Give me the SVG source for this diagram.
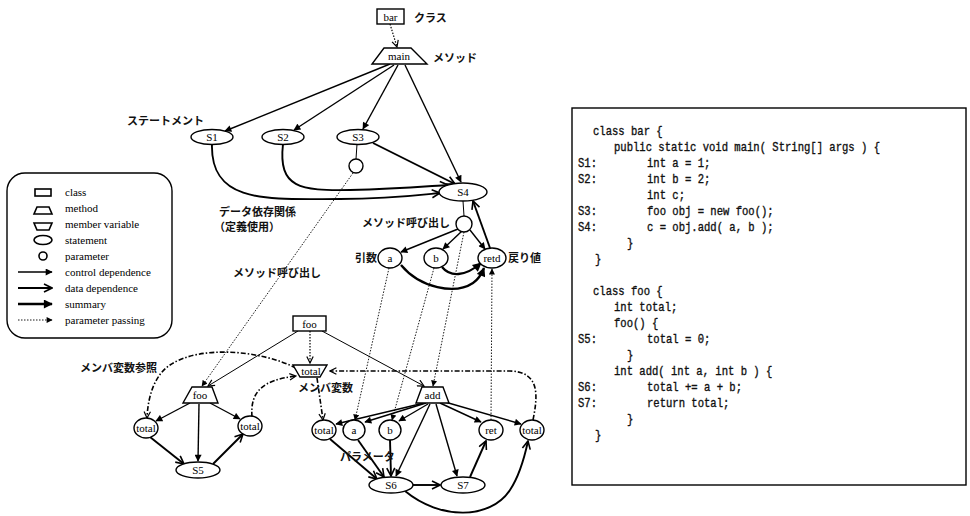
<svg xmlns="http://www.w3.org/2000/svg" width="970" height="516" viewBox="0 0 970 516">
<style>
.n{fill:#fff;stroke:#000;stroke-width:1.4}
.lbl{font-family:"Liberation Serif",serif;font-size:11px;text-anchor:middle;fill:#000}
.jp{font-family:"Liberation Sans","Noto Sans CJK JP",sans-serif;font-size:11px;font-weight:bold;fill:#111}
.leg{font-family:"Liberation Serif",serif;font-size:11px;fill:#000}
.code{font-family:"Liberation Mono",monospace;font-size:12px;fill:#111;stroke:#111;stroke-width:0.35}
.ctl{fill:none;stroke:#000;stroke-width:1.4;marker-end:url(#fill)}
.dat{fill:none;stroke:#000;stroke-width:1.9;marker-end:url(#open)}
.sum{fill:none;stroke:#000;stroke-width:2.3;marker-end:url(#fillb)}
.par{fill:none;stroke:#000;stroke-width:0.9;stroke-dasharray:1.5 1.5;marker-end:url(#fills)}
.cls{fill:none;stroke:#000;stroke-width:1;marker-end:url(#opens)}
.clsd{fill:none;stroke:#000;stroke-width:1.2;stroke-dasharray:1.5 1.5;marker-end:url(#opens)}
.mem{fill:none;stroke:#000;stroke-width:1.6;stroke-dasharray:5 2 1.5 2;marker-end:url(#opens)}
.pl{fill:none;stroke:#000;stroke-width:1}
</style>
<defs>
<marker id="fill" viewBox="0 0 10 10" refX="9" refY="5" markerWidth="9" markerHeight="7" markerUnits="userSpaceOnUse" orient="auto"><path d="M0,0 L10,5 L0,10 z"/></marker>
<marker id="fillb" viewBox="0 0 10 10" refX="9" refY="5" markerWidth="11" markerHeight="9" markerUnits="userSpaceOnUse" orient="auto"><path d="M0,0 L10,5 L0,10 z"/></marker>
<marker id="fills" viewBox="0 0 10 10" refX="9" refY="5" markerWidth="7" markerHeight="6" markerUnits="userSpaceOnUse" orient="auto"><path d="M0,0 L10,5 L0,10 z"/></marker>
<marker id="open" viewBox="0 0 10 10" refX="9" refY="5" markerWidth="10" markerHeight="10" markerUnits="userSpaceOnUse" orient="auto"><path d="M1,1 L9,5 L1,9" fill="none" stroke="#000" stroke-width="1.6"/></marker>
<marker id="opens" viewBox="0 0 10 10" refX="9" refY="5" markerWidth="8" markerHeight="8" markerUnits="userSpaceOnUse" orient="auto"><path d="M1,1 L9,5 L1,9" fill="none" stroke="#000" stroke-width="1.5"/></marker>
</defs>
<rect width="970" height="516" fill="#fff"/>

<g id="legend">
<rect x="7" y="173" width="165" height="165" rx="18" fill="none" stroke="#000" stroke-width="1.4"/>
<rect x="35" y="189" width="16" height="7" fill="none" stroke="#000" stroke-width="1.6"/>
<polygon points="37,207 49,207 52,214 34,214" fill="none" stroke="#000" stroke-width="1.6"/>
<polygon points="34,223 52,223 49,230 37,230" fill="none" stroke="#000" stroke-width="1.6"/>
<ellipse cx="43" cy="240" rx="9" ry="4.5" fill="none" stroke="#000" stroke-width="1.6"/>
<circle cx="43" cy="256" r="4" fill="none" stroke="#000" stroke-width="1.6"/>
<line x1="18" y1="272" x2="52" y2="272" class="ctl"/>
<line x1="18" y1="288" x2="52" y2="288" class="dat"/>
<line x1="18" y1="304" x2="52" y2="304" class="sum"/>
<line x1="18" y1="320" x2="52" y2="320" class="par"/>
<text class="leg" x="65" y="196">class</text>
<text class="leg" x="65" y="212">method</text>
<text class="leg" x="65" y="228">member variable</text>
<text class="leg" x="65" y="244">statement</text>
<text class="leg" x="65" y="260">parameter</text>
<text class="leg" x="65" y="276">control dependence</text>
<text class="leg" x="65" y="292">data dependence</text>
<text class="leg" x="65" y="308">summary</text>
<text class="leg" x="65" y="324">parameter passing</text>
</g>

<g id="connectors">
<path class="clsd" d="M390,24 L397,47"/>
<path class="ctl" d="M390,64 L225,131"/>
<path class="ctl" d="M394,65 L294,130"/>
<path class="ctl" d="M398,65 L363,129"/>
<path class="ctl" d="M405,65 L461,182"/>
<path class="dat" d="M212,144 C 210,205 270,199 340,199 C 390,199 420,195 440,193"/>
<path class="dat" d="M283,144 C 278,188 300,191 350,190 C 400,189 430,186 448,185"/>
<path class="dat" d="M373,143 L455,184"/>
<path class="pl" d="M357,144 L356,159"/>
<path class="pl" d="M463,201 L464,216"/>
<path class="ctl" d="M458,229 L401,252"/>
<path class="ctl" d="M462,231 L443,249"/>
<path class="ctl" d="M470,230 L485,249"/>
<path class="dat" d="M490,248 L473,201"/>
<path class="sum" d="M401,265 C 420,288 455,295 473,283 C 479,279 482,273 484,268"/>
<path class="sum" d="M442,267 C 450,277 465,277 481,263"/>
<path class="par" d="M353,173 L202,386"/>
<path class="par" d="M464,232 L433,386"/>
<path class="par" d="M389,268 L355,420"/>
<path class="par" d="M434,268 L392,420"/>
<path class="par" d="M491,420 L492,269"/>
<path class="cls" d="M298,331 L208,386"/>
<path class="cls" d="M322,331 L424,386"/>
<path class="clsd" d="M310,331 L310,363"/>
<path class="mem" d="M296,368 C 260,350 200,345 170,365 C 155,375 148,395 147,418"/>
<path class="mem" d="M252,417 C 250,392 262,380 296,376"/>
<path class="mem" d="M317,378 L323,420"/>
<path class="mem" d="M533,420 C 538,395 540,372 510,371 L330,371"/>
<path class="ctl" d="M190,403 L156,421"/>
<path class="ctl" d="M199,404 L198,461"/>
<path class="ctl" d="M210,403 L240,419"/>
<path class="dat" d="M150,437 L184,464"/>
<path class="dat" d="M213,464 L243,434"/>
<path class="ctl" d="M424,403 L336,424"/>
<path class="ctl" d="M426,403 L365,422"/>
<path class="ctl" d="M428,404 L399,421"/>
<path class="ctl" d="M440,403 L481,422"/>
<path class="ctl" d="M445,402 L521,424"/>
<path class="ctl" d="M430,404 L396,476"/>
<path class="ctl" d="M436,404 L457,476"/>
<path class="dat" d="M330,439 L377,479"/>
<path class="dat" d="M358,440 L384,477"/>
<path class="dat" d="M390,440 L391,476"/>
<path class="dat" d="M413,485 L440,485"/>
<path class="dat" d="M470,477 L486,441"/>
<path class="dat" d="M405,491 C 440,520 490,520 510,490 C 520,475 525,455 528,441"/>
</g>

<g id="bar"><rect class="n" x="377" y="9" width="27" height="15"/><text class="lbl" x="390.5" y="20.5">bar</text></g>
<g id="main"><polygon class="n" points="384,48 411,48 427,64 372,64"/><text class="lbl" x="399" y="60">main</text></g>
<g id="S1"><ellipse class="n" cx="212" cy="137" rx="21" ry="7.5"/><text class="lbl" x="212" y="141">S1</text></g>
<g id="S2"><ellipse class="n" cx="283" cy="137" rx="21" ry="7.5"/><text class="lbl" x="283" y="141">S2</text></g>
<g id="S3"><ellipse class="n" cx="358" cy="137" rx="21" ry="7.5"/><text class="lbl" x="358" y="141">S3</text></g>
<g id="S3call"><circle class="n" cx="356" cy="166" r="7"/></g>
<g id="S4"><ellipse class="n" cx="463" cy="192" rx="24" ry="9"/><text class="lbl" x="463" y="196">S4</text></g>
<g id="S4call"><circle class="n" cx="464" cy="224" r="8"/></g>
<g id="a_in"><ellipse class="n" cx="390" cy="258" rx="12" ry="10"/><text class="lbl" x="390" y="262">a</text></g>
<g id="b_in"><ellipse class="n" cx="436" cy="258" rx="12" ry="10"/><text class="lbl" x="436" y="262">b</text></g>
<g id="retd"><ellipse class="n" cx="492" cy="258" rx="14" ry="10"/><text class="lbl" x="492" y="262">retd</text></g>

<g id="fooClass"><rect class="n" x="293" y="316" width="33" height="15"/><text class="lbl" x="309.5" y="327.5">foo</text></g>
<g id="totalMember"><polygon class="n" points="293,365 327,365 320,377 300,377"/><text class="lbl" x="311" y="375">total</text></g>
<g id="fooMethod"><polygon class="n" points="192,387 212,387 218,403 183,403"/><text class="lbl" x="200" y="399">foo</text></g>
<g id="totalL"><ellipse class="n" cx="146" cy="428" rx="12" ry="10"/><text class="lbl" x="146" y="432">total</text></g>
<g id="totalR"><ellipse class="n" cx="250" cy="426" rx="12" ry="10"/><text class="lbl" x="250" y="430">total</text></g>
<g id="S5"><ellipse class="n" cx="198" cy="470" rx="22" ry="8"/><text class="lbl" x="198" y="474">S5</text></g>
<g id="add"><polygon class="n" points="422,387 443,387 449,403 416,403"/><text class="lbl" x="432.5" y="399">add</text></g>
<g id="totalAddIn"><ellipse class="n" cx="324" cy="430" rx="12" ry="10"/><text class="lbl" x="324" y="434">total</text></g>
<g id="a_f"><ellipse class="n" cx="354" cy="430" rx="11" ry="10"/><text class="lbl" x="354" y="434">a</text></g>
<g id="b_f"><ellipse class="n" cx="390" cy="430" rx="11" ry="10"/><text class="lbl" x="390" y="434">b</text></g>
<g id="ret"><ellipse class="n" cx="491" cy="430" rx="12" ry="10"/><text class="lbl" x="491" y="434">ret</text></g>
<g id="totalAddOut"><ellipse class="n" cx="532" cy="430" rx="12" ry="10"/><text class="lbl" x="532" y="434">total</text></g>
<g id="S6"><ellipse class="n" cx="391" cy="485" rx="22" ry="8"/><text class="lbl" x="391" y="489">S6</text></g>
<g id="S7"><ellipse class="n" cx="463" cy="485" rx="22" ry="8"/><text class="lbl" x="463" y="489">S7</text></g>

<g id="labels">
<text class="jp" x="414" y="22">クラス</text>
<text class="jp" x="433" y="62">メソッド</text>
<text class="jp" x="127" y="125">ステートメント</text>
<text class="jp" x="219" y="216">データ依存関係</text>
<text class="jp" x="214" y="231">（定義使用）</text>
<text class="jp" x="362" y="227">メソッド呼び出し</text>
<text class="jp" x="233" y="277">メソッド呼び出し</text>
<text class="jp" x="355" y="262">引数</text>
<text class="jp" x="508" y="262">戻り値</text>
<text class="jp" x="80" y="372">メンバ変数参照</text>
<text class="jp" x="298" y="392">メンバ変数</text>
<text class="jp" x="340" y="461">パラメータ</text>
</g>

<g id="code">
<rect x="572" y="108" width="394" height="377" fill="none" stroke="#000" stroke-width="1.4"/>
<g transform="scale(0.88 1)" class="code">
<text x="673.9" y="135">class bar {</text>
<text x="697.7" y="151">public static void main( String[] args ) {</text>
<text x="656.8" y="167">S1:</text><text x="735.2" y="167">int a = 1;</text>
<text x="656.8" y="183">S2:</text><text x="735.2" y="183">int b = 2;</text>
<text x="735.2" y="199">int c;</text>
<text x="656.8" y="215">S3:</text><text x="735.2" y="215">foo obj = new foo();</text>
<text x="656.8" y="231">S4:</text><text x="735.2" y="231">c = obj.add( a, b );</text>
<text x="712.5" y="247">}</text>
<text x="676.1" y="263">}</text>
<text x="673.9" y="295">class foo {</text>
<text x="697.7" y="311">int total;</text>
<text x="697.7" y="327">foo() {</text>
<text x="656.8" y="343">S5:</text><text x="735.2" y="343">total = 0;</text>
<text x="712.5" y="359">}</text>
<text x="697.7" y="375">int add( int a, int b ) {</text>
<text x="656.8" y="391">S6:</text><text x="735.2" y="391">total += a + b;</text>
<text x="656.8" y="407">S7:</text><text x="735.2" y="407">return total;</text>
<text x="712.5" y="423">}</text>
<text x="676.1" y="439">}</text>
</g>
</g>
</svg>
